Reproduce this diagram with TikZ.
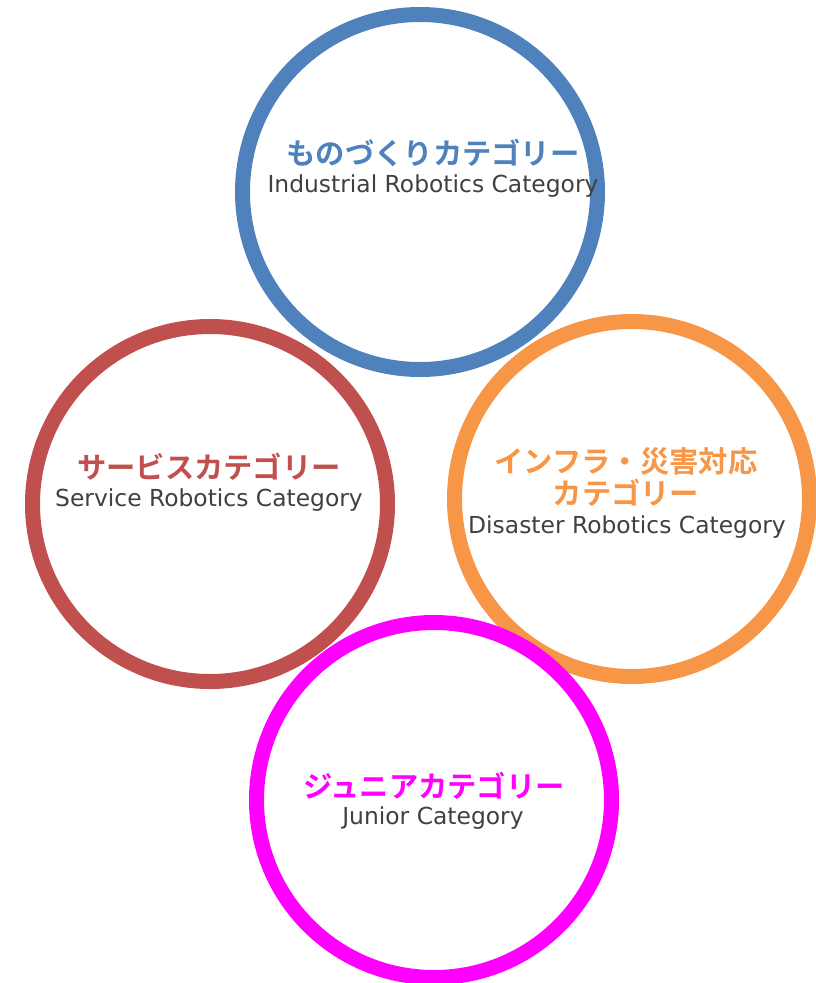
\documentclass[tikz,border=0pt]{standalone}
\usepackage{fontspec}
\setmainfont{DejaVu Sans}
\newfontfamily\jpfont{Noto Sans CJK JP}[BoldFont={* Bold}]
\definecolor{cblue}{HTML}{4F81BD}
\definecolor{cred}{HTML}{C0504D}
\definecolor{corange}{HTML}{F79646}
\definecolor{cmag}{HTML}{FF00FF}
\definecolor{ctext}{HTML}{404040}
\begin{document}
\begin{tikzpicture}[x=1pt,y=-1pt,
  ring/.style={line width=15pt},
  jp/.style={font=\jpfont\bfseries\fontsize{29.3}{32}\selectfont, inner sep=0pt},
  en/.style={font=\fontsize{23.4}{26}\selectfont, text=ctext, inner sep=0pt}]
\useasboundingbox (0,0) rectangle (816,983);
\draw[ring, cblue] (420,192) circle (177.5);
\draw[ring, cred] (210,504) circle (177.5);
\draw[ring, corange] (632,499) circle (177.5);
\draw[ring, cmag] (434,800) circle (177.5);
\node[jp, text=cblue] (t1) at (433,153) {ものづくりカテゴリー};
\node[en] (e1) at (433,186) {Industrial Robotics Category};
\node[jp, text=cred] (t2) at (209,467) {サービスカテゴリー};
\node[en] (e2) at (209,500) {Service Robotics Category};
\node[jp, text=corange] (t3a) at (626,461) {インフラ・災害対応};
\node[jp, text=corange] (t3b) at (626,493) {カテゴリー};
\node[en] (e3) at (627,527) {Disaster Robotics Category};
\node[jp, text=cmag] (t4) at (434,786) {ジュニアカテゴリー};
\node[en] (e4) at (433,818) {Junior Category};
\end{tikzpicture}
\end{document}
